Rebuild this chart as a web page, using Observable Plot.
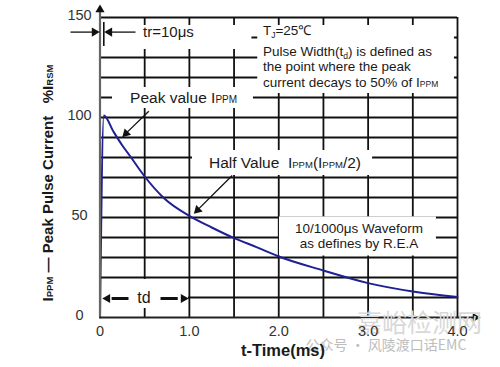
<!DOCTYPE html>
<html><head><meta charset="utf-8">
<script src="https://cdn.jsdelivr.net/npm/d3@7"></script>
<script src="https://cdn.jsdelivr.net/npm/@observablehq/plot@0.6"></script>
<style>body{margin:0;background:#fff;} svg{display:block;}</style>
</head><body><div id="chart"></div>
<script>
// ---- data ----
const timeMs     = [0, 0.043, 0.15, 0.25, 0.34, 0.5, 0.72, 1.0, 1.25, 1.5, 1.75, 2.0, 2.5, 3.0, 3.5, 4.0];
const currentPct = [0, 101,   93,   86,   80.5, 70.5, 59.5, 50.8, 45, 39.7, 35.2, 30.5, 23.5, 17.2, 13, 10.2];
const xGrid = [0.5, 1, 1.5, 2, 2.5, 3, 3.5, 4];
const yGrid = [10, 20, 30, 40, 50, 60, 70, 80, 90, 100, 110, 120, 130, 140, 150];
const xTickValues = [0, 1, 2, 3, 4];
const xTickLabels = ["0", "1.0", "2.0", "3.0", "4.0"];
const yTickValues = [0, 50, 100, 150];
const yTickLabels = ["0", "50", "100", "150"];
// label boxes (white, cover the grid), in data units
const boxX1 = [0.012, 1.765, 0.14, 1.035, 2.008, 0.012];
const boxX2 = [1.70, 3.966, 1.717, 3.05, 3.764, 0.99];
const boxY1 = [134, 112, 104.5, 71, 30.75, 4.5];
const boxY2 = [146, 146, 115, 83.5, 50.3, 19];
// arrow shafts
const shaftX1 = [-0.33, 0.397, 0.546, 1.479];
const shaftX2 = [-0.06, 0.10, 0.27, 1.09];
const shaftY1 = [142.7, 142.7, 103.15, 71];
const shaftY2 = [142.7, 142.7, 91.2, 53.7];
const tdShaftX1 = [0.319, 0.677];
const tdShaftX2 = [0.13, 0.87];
const tdShaftY = [9.5, 9.5];
// arrow heads
const headX = [-0.062, 0.106, 0.291, 1.092, 0.084, 0.934];
const headY = [142.7, 142.7, 92, 53.7, 9.5, 9.5];
const headRot = [90, 270, 225, 225, 270, 90];

const FONT = '"Liberation Sans", Arial, Helvetica, sans-serif';

const curve = timeMs.map((t, i) => ({t, v: currentPct[i]}));
const boxes = boxX1.map((d, i) => ({x1: d, x2: boxX2[i], y1: boxY1[i], y2: boxY2[i]}));
const shafts = shaftX1.map((d, i) => ({x1: d, x2: shaftX2[i], y1: shaftY1[i], y2: shaftY2[i]}));
const tdShafts = tdShaftX1.map((d, i) => ({x1: d, x2: tdShaftX2[i], y: tdShaftY[i]}));
const heads = headX.map((d, i) => ({x: d, y: headY[i], rot: headRot[i]}));

const plot = Plot.plot({
  width: 500, height: 367,
  marginLeft: 99.5, marginRight: 43, marginTop: 17, marginBottom: 50,
  x: {domain: [0, 4], axis: null},
  y: {domain: [0, 150], axis: null},
  style: {fontFamily: FONT, background: "white", overflow: "visible"},
  marks: [
    Plot.ruleX(xGrid, {y1: 0, y2: 150, stroke: "#111", strokeWidth: 1.8}),
    Plot.ruleY(yGrid, {x1: 0, x2: 4, stroke: "#111", strokeWidth: 1.8}),
    Plot.rect(boxes, {x1: "x1", x2: "x2", y1: "y1", y2: "y2", fill: "white"}),
    Plot.line(curve, {x: "t", y: "v", stroke: "#1f1f96", strokeWidth: 2, curve: "monotone-x"}),
    Plot.ruleX([0], {y1: 0, y2: 154, stroke: "#666", strokeWidth: 2.2}),
    Plot.ruleY([0], {x1: 0, x2: 4.2, stroke: "#222", strokeWidth: 2}),
    Plot.dot([{x: 0, y: 153.9}], {x: "x", y: "y", symbol: "triangle", r: 3.4, fill: "#111", stroke: null}),
    Plot.dot([{x: 4.2, y: 0}], {x: "x", y: "y", symbol: "triangle", r: 3.4, fill: "#111", stroke: null, rotate: 90}),
    Plot.ruleX([0.0425], {y1: 135.5, y2: 147.5, stroke: "#111", strokeWidth: 1.6}),
    Plot.link(shafts, {x1: "x1", y1: "y1", x2: "x2", y2: "y2", stroke: "#111", strokeWidth: 1.3}),
    Plot.link(tdShafts, {x1: "x1", y1: "y", x2: "x2", y2: "y", stroke: "#111", strokeWidth: 3}),
    Plot.dot(heads, {x: "x", y: "y", rotate: "rot", symbol: "triangle", r: 3.4, fill: "#111", stroke: null}),
    Plot.text(["嘉峪检测网"], {x: 3.574, y: -3, text: d => d, fontSize: 25, fill: "#d8d8d8", fontFamily: '"Noto Sans CJK SC", sans-serif'}),
    Plot.text(["公众号 · 风陵渡口话EMC"], {x: 2.3, y: -14, text: d => d, fontSize: 14, fill: "#bdbdbd", textAnchor: "start", fontFamily: '"Noto Sans CJK SC", sans-serif'}),
    Plot.text(yTickValues, {x: 0, y: d => d, text: (d, i) => yTickLabels[i], dx: -20.5, dy: -2.5, fontSize: 14.5, fill: "#333", textAnchor: "middle"}),
    Plot.text(xTickValues, {x: d => d, y: 0, text: (d, i) => xTickLabels[i], dy: 13.5, fontSize: 14.5, fill: "#333", textAnchor: "middle"})
  ]
});
document.getElementById("chart").appendChild(plot);

// ---- rich text (subscripts) placed through the plot's scales ----
const svg = d3.select(plot);
const X = plot.scale("x"), Y = plot.scale("y");
function rich(spec) {
  const px = X.apply(spec.t), py = Y.apply(spec.v), size = spec.size;
  const el = svg.append("text")
    .attr("transform", `translate(${px},${py})` + (spec.rotate ? ` rotate(${spec.rotate})` : ""))
    .attr("x", 0).attr("y", (0.36 * size).toFixed(2))
    .attr("font-family", FONT).attr("font-size", size)
    .attr("font-weight", spec.weight || "normal")
    .attr("text-anchor", spec.anchor || "start")
    .attr("fill", spec.fill || "#1a1a1a")
    .style("white-space", "pre");
  let shift = 0;
  for (const [str, sz, sh = 0] of spec.parts) {
    const ts = el.append("tspan").text(str);
    if (sz) ts.attr("font-size", sz);
    if (sh !== shift) { ts.attr("dy", sh - shift); shift = sh; }
  }
}
const texts = [
  {t: -0.576, v: 67, rotate: -90, anchor: "middle", size: 15, weight: "bold",
   parts: [["I"], ["PPM", 9.5], [" — Peak Pulse Current   %I"], ["RSM", 9.5]]},
  {t: 2.053, v: -16.5, anchor: "middle", size: 16.5, weight: "bold", parts: [["t-Time(ms)"]]},
  {t: 0.487, v: 142.5, size: 15, parts: [["tr=10μs"]]},
  {t: 1.829, v: 143.5, size: 13.5, parts: [["T"], ["J", 8.5, 3], ["=25℃"]]},
  {t: 1.829, v: 133, size: 13.5, parts: [["Pulse Width(t"], ["d", 8.5, 3], [") is defined as"]]},
  {t: 1.829, v: 125.25, size: 13.5, parts: [["the point where the peak"]]},
  {t: 1.829, v: 117.5, size: 13.5, parts: [["current decays to 50% of I"], ["PPM", 8.5]]},
  {t: 0.342, v: 110, size: 15.5, parts: [["Peak value I"], ["PPM", 10]]},
  {t: 1.225, v: 77.5, size: 15.5, parts: [["Half Value  I"], ["PPM", 9.5], ["(I"], ["PPM", 9.5], ["/2)"]]},
  {t: 2.903, v: 44.35, anchor: "middle", size: 13.5, parts: [["10/1000μs Waveform"]]},
  {t: 2.903, v: 36.85, anchor: "middle", size: 13.5, parts: [["as defines by R.E.A"]]},
  {t: 0.498, v: 9.75, anchor: "middle", size: 16, parts: [["td"]]}
];
texts.forEach(rich);
</script>
</body></html>
